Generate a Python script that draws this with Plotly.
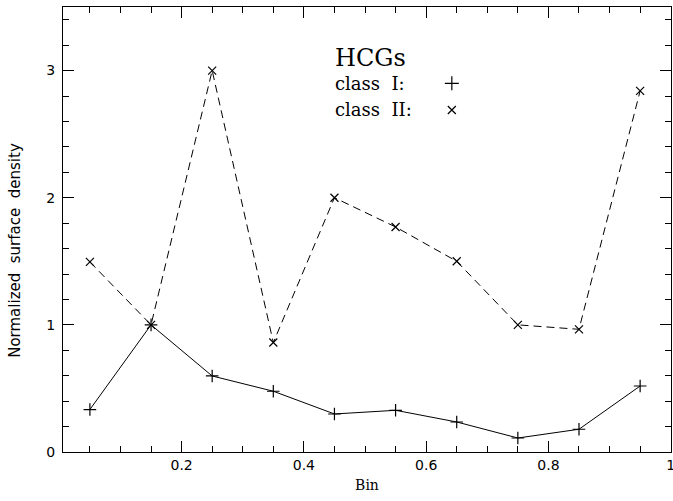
import plotly.graph_objects as go

bins = [0.05, 0.15, 0.25, 0.35, 0.45, 0.55, 0.65, 0.75, 0.85, 0.95]
class_I = [0.334, 1.0, 0.598, 0.478, 0.299, 0.328, 0.236, 0.110, 0.179, 0.519]
class_II = [1.495, 1.0, 3.0, 0.861, 2.0, 1.77, 1.50, 1.0, 0.965, 2.84]

fig = go.Figure()
fig.add_trace(go.Scatter(x=bins, y=class_I, mode="lines+markers",
                         line=dict(color="black", width=1),
                         marker=dict(symbol="cross-thin", size=9, line=dict(color="black", width=1.2)),
                         showlegend=False))
fig.add_trace(go.Scatter(x=bins, y=class_II, mode="lines+markers",
                         line=dict(color="black", width=1, dash="8px,5px"),
                         marker=dict(symbol="x-thin", size=8, line=dict(color="black", width=1.2)),
                         showlegend=False))

# legend-like text
fig.add_annotation(x=0.447, y=3.10, text="HCGs", showarrow=False, xanchor="left", yanchor="middle",
                   font=dict(family="DejaVu Serif", size=24, color="black"))
fig.add_annotation(x=0.447, y=2.895, text="class\u00a0\u00a0I:", showarrow=False, xanchor="left", yanchor="middle",
                   font=dict(family="DejaVu Serif", size=18, color="black"))
fig.add_annotation(x=0.447, y=2.69, text="class\u00a0\u00a0II:", showarrow=False, xanchor="left", yanchor="middle",
                   font=dict(family="DejaVu Serif", size=18, color="black"))
fig.add_trace(go.Scatter(x=[0.642], y=[2.90], mode="markers",
                         marker=dict(symbol="cross-thin", size=10, line=dict(color="black", width=1.2)),
                         showlegend=False))
fig.add_trace(go.Scatter(x=[0.642], y=[2.69], mode="markers",
                         marker=dict(symbol="x-thin", size=8, line=dict(color="black", width=1.2)),
                         showlegend=False))

fig.add_annotation(x=-0.079, y=1.59, xref="paper", yref="y", xanchor="center", yanchor="middle",
                   text="Normalized\u00a0\u00a0surface\u00a0\u00a0density", showarrow=False,
                   textangle=-90, font=dict(family="DejaVu Sans", size=15, color="black"))

fig.update_xaxes(range=[0.006, 1.0005], tickvals=[0.2, 0.4, 0.6, 0.8, 1.0], ticktext=["0.2", "0.4", "0.6", "0.8", "1"],
                 ticks="inside", ticklen=11, tickcolor="black", tickwidth=1,
                 showline=True, linecolor="black", linewidth=1, mirror="allticks",
                 showgrid=False, zeroline=False, ticklabeloverflow="allow", automargin=False,
                 minor=dict(dtick=0.05, tick0=0, ticks="inside", ticklen=6, tickcolor="black", showgrid=False),
                 tickfont=dict(family="DejaVu Sans", size=14, color="black"),
                 title=dict(text="Bin", font=dict(family="DejaVu Serif", size=14, color="black"), standoff=8))
fig.update_yaxes(range=[0, 3.5], tickvals=[0, 1, 2, 3],
                 ticks="inside", ticklen=11, tickcolor="black", tickwidth=1,
                 showline=True, linecolor="black", linewidth=1, mirror="allticks",
                 showgrid=False, zeroline=False, ticklabelstandoff=4, automargin=False,
                 minor=dict(dtick=0.2, tick0=0, ticks="inside", ticklen=6, tickcolor="black", showgrid=False),
                 tickfont=dict(family="DejaVu Sans", size=14, color="black"))

fig.update_layout(width=673, height=501, margin=dict(l=63, r=2, t=7, b=49),
                  paper_bgcolor="white", plot_bgcolor="white")
fig.write_html("out.html")
